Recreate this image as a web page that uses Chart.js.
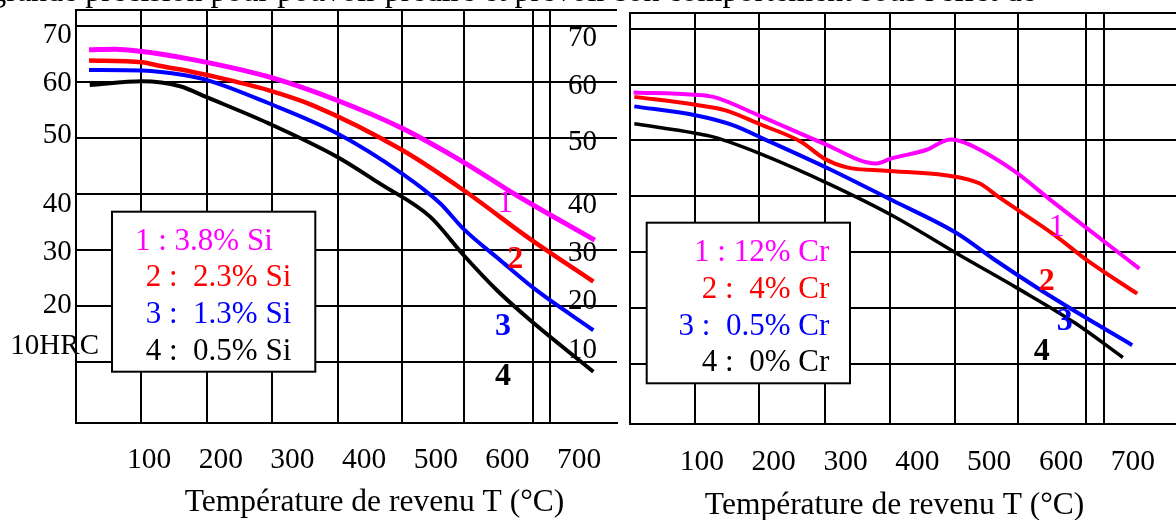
<!DOCTYPE html>
<html>
<head>
<meta charset="utf-8">
<script src="https://cdn.jsdelivr.net/npm/chart.js@4.4.0/dist/chart.umd.min.js"></script>
<style>
body{margin:0;background:#fff;}
#wrap{position:relative;width:1176px;height:520px;overflow:hidden;background:#fff;}
#wrap canvas{position:absolute;left:0;top:0;}
</style>
</head>
<body>
<div id="wrap">
<canvas id="left" width="1176" height="520"></canvas>
<canvas id="right" width="1176" height="520"></canvas>
</div>
<script>
// temperature tick labels and hardness ticks (both panels)
var tempTicks = [100, 200, 300, 400, 500, 600, 700];
var hrcTicks = [70, 60, 50, 40, 30, 20, 10];
var hrcTextSi = ['70', '60', '50', '40', '30', '20', '10HRC'];
var hrcTextCr = ['70', '60', '50', '40', '30', '20', '10'];
var axisTitle = 'Température de revenu T (°C)';
var topLine = "grande précision pour pouvoir prédire et prévoir son comportement sous l'effet de";

// left panel : silicon
var siLabels = ['1 : 3.8% Si', '2 :  2.3% Si', '3 :  1.3% Si', '4 :  0.5% Si'];
var si1T = [16, 52, 84, 159, 266, 362, 453, 538, 613, 722];
var si1H = [65.7, 65.8, 65.5, 64.0, 60.9, 56.7, 51.7, 45.7, 39.7, 31.7];
var si2T = [16, 90, 116, 159, 181, 266, 330, 453, 538, 634, 720];
var si2H = [63.8, 63.5, 62.8, 61.8, 61.2, 58.5, 55.7, 47.8, 40.7, 31.7, 24.3];
var si3T = [16, 90, 148, 181, 266, 362, 453, 506, 538, 591, 640, 720];
var si3H = [62.1, 62.0, 61.2, 60.3, 56.2, 50.8, 43.6, 38.3, 33.8, 28.0, 22.8, 15.6];
var si4T = [17, 90, 143, 181, 266, 362, 422, 492, 539, 585, 632, 720];
var si4H = [59.4, 60.1, 59.2, 57.2, 52.6, 46.6, 41.8, 35.9, 29.0, 22.8, 17.4, 8.2];
var siTagT = [597, 611, 594, 594];
var siTagH = [38.3, 28.2, 16.2, 7.3];
var siGridT = [89, 180, 271, 363, 453, 540, 636, 660];

// right panel : chromium
var crLabels = ['1 : 12% Cr', '2 :  4% Cr', '3 :  0.5% Cr', '4 :  0% Cr'];
var cr1T = [5, 89, 116, 179, 269, 343, 364, 412, 446, 466, 533, 586, 634, 709];
var cr1H = [58.6, 58.2, 57.8, 54.5, 49.5, 45.9, 46.8, 48.3, 50.2, 49.6, 44.7, 39.3, 34.5, 27.1];
var cr2T = [6, 91, 133, 181, 239, 270, 302, 355, 439, 487, 513, 592, 636, 706];
var cr2H = [57.8, 56.4, 55.4, 52.9, 49.7, 46.8, 45.2, 44.6, 43.8, 42.3, 39.9, 33.0, 28.6, 22.6];
var cr3T = [6, 91, 144, 186, 276, 365, 455, 505, 565, 619, 699];
var cr3H = [56.1, 54.5, 52.7, 50.3, 45.0, 39.3, 33.4, 28.9, 23.8, 19.5, 13.4];
var cr4T = [6, 91, 117, 186, 276, 365, 467, 539, 619, 686];
var cr4H = [53.0, 51.3, 50.6, 47.4, 42.3, 36.6, 28.9, 23.6, 17.4, 11.2];
var crTagT = [594, 580, 605, 573];
var crTagH = [34.5, 24.7, 17.6, 12.2];
var crGridT = [90, 180, 271, 361.5, 452, 540, 634.5, 659.6];

var SERIF = '"Liberation Serif", "Times New Roman", serif';
var curveColors = ['#ff00ff', '#ff0000', '#0000ff', '#000000'];
var tagBold = [false, true, true, true];

function pts(t, h){
	return t.map(function(x, i){ return {x: x, y: h[i]}; });
}

// axis labels, legend box, curve numbers, drawn on top of the chart
var decor = {
	id: 'decor',
	afterDatasetsDraw: function(chart, args, o){
		var ctx = chart.ctx;
		var xs = chart.scales.x, ys = chart.scales.y;
		ctx.save();
		ctx.fillStyle = '#000';
		ctx.textBaseline = 'middle';

		// hardness labels
		ctx.font = '29px ' + SERIF;
		ctx.textAlign = 'right';
		hrcTicks.forEach(function(v, i){
			ctx.fillText(o.yText[i], o.yLabelX + o.yDx[i], ys.getPixelForValue(v) + o.yDy[i]);
		});

		// temperature labels
		ctx.font = '29.5px ' + SERIF;
		ctx.textAlign = 'center';
		tempTicks.forEach(function(v){
			ctx.fillText(String(v), xs.getPixelForValue(v), o.xLabelY);
		});

		// axis title
		ctx.font = '31.5px ' + SERIF;
		ctx.fillText(axisTitle, o.title[0], o.title[1]);

		// legend box
		var b = o.box;
		ctx.fillStyle = '#fff';
		ctx.fillRect(b[0], b[1], b[2], b[3]);
		ctx.strokeStyle = '#000';
		ctx.lineWidth = 2;
		ctx.strokeRect(b[0], b[1], b[2], b[3]);
		ctx.font = '31px ' + SERIF;
		ctx.textAlign = o.legAlign;
		o.labels.forEach(function(s, i){
			ctx.fillStyle = curveColors[i];
			ctx.fillText(s, o.legX[i], o.legY[i]);
		});

		// curve numbers
		ctx.textAlign = 'center';
		o.tagT.forEach(function(t, i){
			ctx.font = (tagBold[i] ? 'bold ' : '') + '32px ' + SERIF;
			ctx.fillStyle = curveColors[i];
			ctx.fillText(String(i + 1), xs.getPixelForValue(t), ys.getPixelForValue(o.tagH[i]));
		});

		// cut-off line of running text above the figure
		if (o.top) {
			ctx.fillStyle = '#000';
			ctx.font = '32px ' + SERIF;
			ctx.textAlign = 'right';
			ctx.textBaseline = 'alphabetic';
			ctx.fillText(topLine, 1036, 1);
		}
		ctx.restore();
	}
};

function makeChart(id, cfg){
	var sets = cfg.series.map(function(s, i){
		return {
			data: pts(s[0], s[1]),
			borderColor: curveColors[i],
			borderWidth: cfg.widths[i],
			pointRadius: 0,
			cubicInterpolationMode: 'monotone',
			fill: false
		};
	});
	return new Chart(document.getElementById(id), {
		type: 'line',
		data: {datasets: sets},
		options: {
			responsive: false,
			animation: false,
			events: [],
			layout: {padding: cfg.pad},
			plugins: {legend: {display: false}, tooltip: {enabled: false}, decor: cfg.decor},
			scales: {
				x: {
					type: 'linear', min: cfg.xMin, max: cfg.xMax, bounds: 'data',
					afterBuildTicks: function(s){ s.ticks = cfg.gridT.map(function(v){ return {value: v}; }); },
					ticks: {display: false},
					grid: {color: '#000', lineWidth: 2, drawTicks: false},
					border: {display: true, color: '#000', width: 2}
				},
				y: {
					type: 'linear', min: cfg.yMin, max: cfg.yMax, bounds: 'data',
					afterBuildTicks: function(s){
						s.ticks = hrcTicks.concat([cfg.yMax]).map(function(v){ return {value: v}; });
					},
					ticks: {display: false},
					grid: {color: '#000', lineWidth: 2, drawTicks: false},
					border: {display: true, color: '#000', width: 2}
				}
			}
		},
		plugins: [decor]
	});
}

makeChart('left', {
	series: [[si1T, si1H], [si2T, si2H], [si3T, si3H], [si4T, si4H]],
	widths: [5, 4.5, 4, 4],
	pad: {left: 76, top: 10, right: 559, bottom: 97},
	xMin: -2.2, xMax: 753, yMin: -0.97, yMax: 72.82,
	gridT: siGridT,
	decor: {
		yText: hrcTextSi, yLabelX: 71.7,
		yDx: [0, 0, 0, 0, 0, 0, 27.3],
		yDy: [9.2, 1.2, -2.7, 10.3, 2.8, -0.6, -15],
		xLabelY: 460,
		title: [374.5, 503],
		box: [112, 211.7, 203.3, 160],
		labels: siLabels, legAlign: 'left',
		legX: [135, 145.7, 145.7, 145.7],
		legY: [241.7, 278, 315, 351.7],
		tagT: siTagT, tagH: siTagH,
		top: true
	}
});

makeChart('right', {
	series: [[cr1T, cr1H], [cr2T, cr2H], [cr3T, cr3H], [cr4T, cr4H]],
	widths: [4, 4, 4, 3.5],
	pad: {left: 630, top: 13, right: 0, bottom: 96},
	xMin: 0, xMax: 760, yMin: -0.7, yMax: 72.8,
	gridT: crGridT,
	decor: {
		yText: hrcTextCr, yLabelX: 597,
		yDx: [0, 0, 0, 0, 0, 0, 0],
		yDy: [9.3, 1.4, 1.5, 8.6, 0.7, -6.6, -14.2],
		xLabelY: 462,
		title: [894.6, 506],
		box: [646.7, 222.7, 203.3, 160.6],
		labels: crLabels, legAlign: 'right',
		legX: [829.3, 829.3, 829.3, 829.3],
		legY: [253.3, 290, 326.7, 363.3],
		tagT: crTagT, tagH: crTagH,
		top: false
	}
});
</script>
</body>
</html>
